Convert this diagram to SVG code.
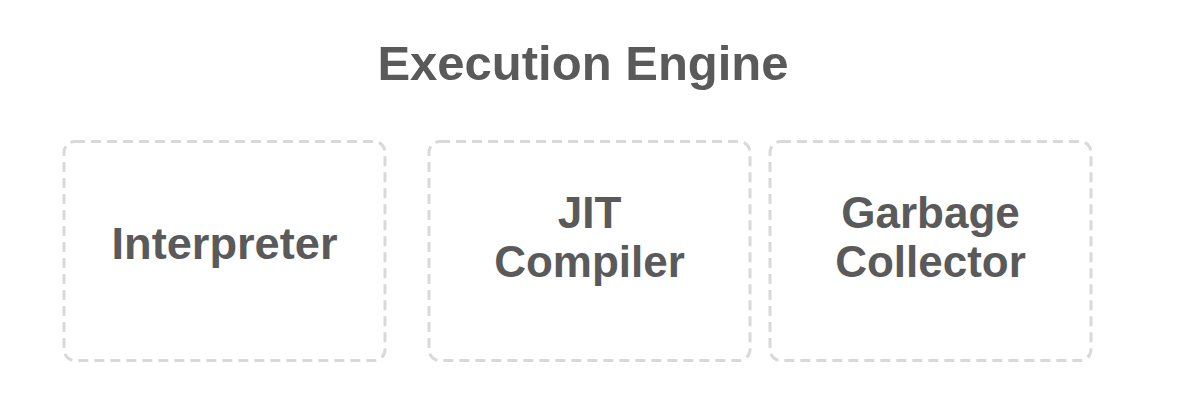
<svg xmlns="http://www.w3.org/2000/svg" width="1180" height="413" viewBox="0 0 1180 413">
<style>
.box{fill:#ffffff;stroke:#d9d9d9;stroke-width:3;stroke-dasharray:10 6}
.t{font-family:"Liberation Sans",Arial,sans-serif;font-weight:bold;fill:#5a5a5a;text-anchor:middle}
.title{font-size:49px}
.lbl{font-size:44px}
</style>
<rect width="1180" height="413" fill="#ffffff"/>
<g id="title"><text class="t title" x="583" y="80">Execution Engine</text></g>
<g id="interpreter">
<rect class="box" x="64" y="141.5" width="321" height="219" rx="11"/>
<text class="t lbl" x="224.5" y="259" textLength="226" lengthAdjust="spacingAndGlyphs">Interpreter</text>
</g>
<g id="jit-compiler">
<rect class="box" x="429" y="141.5" width="321" height="219" rx="11"/>
<text class="t lbl" x="589.5" y="228">JIT</text>
<text class="t lbl" x="589.5" y="277">Compiler</text>
</g>
<g id="garbage-collector">
<rect class="box" x="770" y="141.5" width="321" height="219" rx="11"/>
<text class="t lbl" x="930.5" y="228">Garbage</text>
<text class="t lbl" x="930.5" y="277">Collector</text>
</g>
<g id="connectors"></g>
</svg>
